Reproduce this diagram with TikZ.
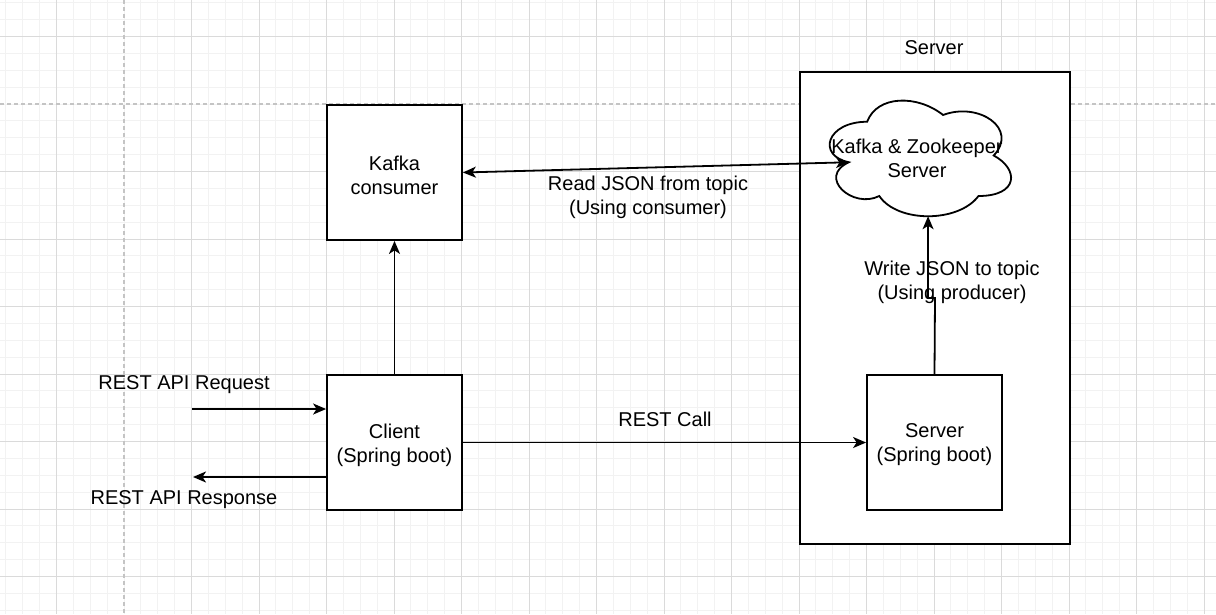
\documentclass[tikz,border=0pt]{standalone}
\usepackage{fontspec}
\setmainfont{Liberation Sans}
\usetikzlibrary{arrows.meta,calc}
\definecolor{gridminor}{HTML}{F2F2F2}
\definecolor{gridmajor}{HTML}{DADADA}
\definecolor{griddash}{HTML}{C4C4C4}
\tikzset{
  minorline/.style={draw=gridminor,line width=1pt},
  majorline/.style={draw=gridmajor,line width=1pt},
  dashline/.style={draw=griddash,line width=1.5pt,dash pattern=on 4pt off 3pt},
  box/.style={draw=black,line width=1.8pt,fill=white,rectangle,inner sep=0pt,
    minimum width=135pt,minimum height=135pt},
  txt/.style={align=center,inner sep=0pt,text=black},
  arr/.style={draw=black,line width=1.8pt,-{Stealth[length=13pt,width=11pt,inset=3.5pt]}},
  darr/.style={draw=black,line width=1.8pt,{Stealth[length=13pt,width=11pt,inset=3.5pt]}-{Stealth[length=13pt,width=11pt,inset=3.5pt]}},
}
\begin{document}
\begin{tikzpicture}[x=1pt,y=-1pt,font=\fontsize{20}{24}\selectfont]
\useasboundingbox (0,0) rectangle (1216,614);
\fill[white] (0,0) rectangle (1216,614);
% grid
\foreach \i in {0,...,72} {
  \pgfmathsetmacro\xx{5.875+16.875*\i}
  \draw[minorline] (\xx,0) -- (\xx,614);
}
\foreach \i in {0,...,36} {
  \pgfmathsetmacro\yy{2.75+16.875*\i}
  \draw[minorline] (0,\yy) -- (1216,\yy);
}
\foreach \i in {0,2,3,...,17} {
  \pgfmathsetmacro\xx{56.5+67.5*\i}
  \draw[majorline] (\xx,0) -- (\xx,614);
}
\foreach \i in {0,2,3,...,8} {
  \pgfmathsetmacro\yy{36.5+67.5*\i}
  \draw[majorline] (0,\yy) -- (1216,\yy);
}
\draw[dashline] (124,0) -- (124,614);
\draw[dashline] (0,104) -- (1216,104);

% outer server container
\node[box,minimum width=270pt,minimum height=472pt] (outer) at (935,308) {};
\node[txt] (outerlbl) at (934,47.5) {Server};

% boxes
\node[box] (kc) at (394.5,172.5) {};
\node[txt] (kct) at (394.5,175) {Kafka\\consumer};
\node[box] (client) at (394.5,442.5) {};
\node[txt] (clientt) at (394.5,445) {Client\\(Spring boot)};
\node[box] (srv) at (934.5,442.5) {};
\node[txt] (srvt) at (934.5,445) {Server\\(Spring boot)};

% cloud
\begin{scope}[shift={(816.5,88)},x=202.5pt,y=-135pt]
  \draw[black,line width=1.8pt,fill=white]
    (0.25,0.25) .. controls (0.05,0.25) and (0,0.5) .. (0.16,0.55)
    .. controls (0,0.66) and (0.18,0.9) .. (0.31,0.8)
    .. controls (0.4,1) and (0.7,1) .. (0.8,0.8)
    .. controls (1,0.8) and (1,0.6) .. (0.875,0.5)
    .. controls (1,0.3) and (0.8,0.1) .. (0.625,0.2)
    .. controls (0.5,0.05) and (0.3,0.05) .. (0.25,0.25) -- cycle;
  \coordinate (cloudW) at (0.16,0.55);
  \coordinate (cloudS) at (0.551,0.95);
\end{scope}
\node[txt] (cloud) at (917,158.5) {Kafka \& Zookeeper\\Server};

% connectors
\draw[arr] (client.north) -- (kc.south);
\draw[darr] (kc.east) -- (cloudW);
\draw[arr] (client.east) -- (srv.west);
\coordinate (jog) at (935,298);
\draw[arr] (srv.north) -- (jog) -- (cloudS |- jog) -- (cloudS);
\coordinate (reqs) at (192,409);
\draw[arr] (reqs) -- (reqs -| client.west);
\coordinate (rese) at (193,477);
\draw[arr] (rese -| client.west) -- (rese);

% labels
\node[txt] (lread) at (648,197) {Read JSON from topic\\(Using consumer)};
\node[txt] (lwrite) at (952,282) {Write JSON to topic\\(Using producer)};
\node[txt] (lrest) at (665,419) {REST Call};
\node[txt] (lreq) at (184,385) {REST API Request};
\node[txt] (lres) at (184,500) {REST API Response};
\end{tikzpicture}
\end{document}
